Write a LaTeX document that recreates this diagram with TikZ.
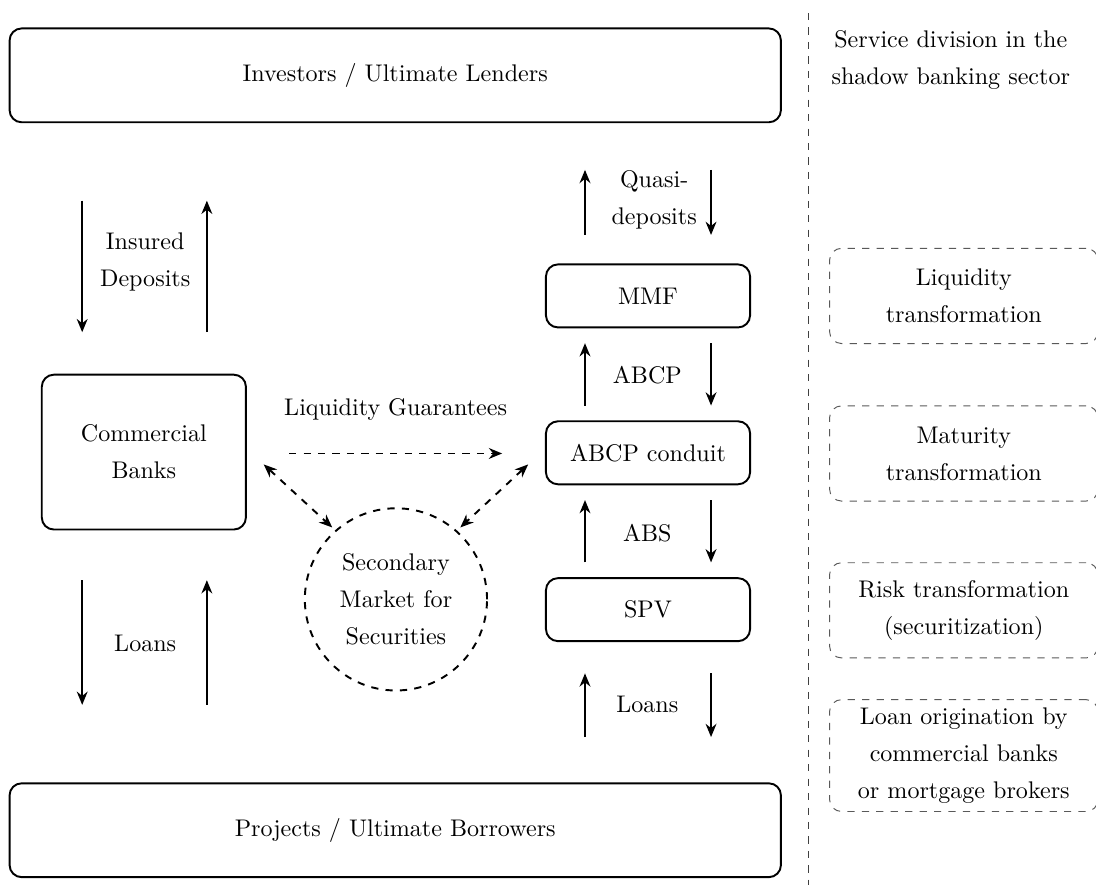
\documentclass[tikz,border=0pt]{standalone}
\usepackage{tikz}
\usetikzlibrary{arrows.meta,positioning}

\begin{document}
\begin{tikzpicture}[
	every node/.style={align=center,font=\fontsize{10}{15.4}\selectfont},
	agent/.style={draw,thick,rounded corners=5pt,minimum width=11.26cm,minimum height=1.37cm},
	inst/.style={draw,thick,rounded corners=5pt,minimum width=2.98cm,minimum height=0.92cm},
	service/.style={draw,dashed,gray!70!black,text=black,rounded corners=5pt,minimum width=3.92cm,minimum height=1.39cm},
	flow/.style={thick,-{Stealth[length=5.5pt,width=4.5pt]}},
	guar/.style={thick,dashed,-{Stealth[length=5.5pt,width=4.5pt]}}]
		\useasboundingbox (0,0) rectangle (16,13.01);
		\node[agent] (lenders) at (5.77,11.91) {Investors / Ultimate Lenders};
		\node[agent] (borrowers) at (5.77,0.89) {Projects / Ultimate Borrowers};
		\node[inst,minimum height=2.26cm] (banks) at (2.10,6.41) {Commercial\\Banks};
		\node[inst] (mmf) at (9.46,8.69) {MMF};
		\node[inst] (conduit) at (9.46,6.40) {ABCP conduit};
		\node[inst] (spv) at (9.46,4.11) {SPV};
		\node[draw,thick,dashed,circle,minimum size=2.66cm] (market) at (5.78,4.26) {Secondary\\Market for\\Securities};
		\foreach \n/\ya/\yb in {dep/10.08/8.16,bank/4.54/2.72}{
			\coordinate (\n La) at (1.20,\ya); \coordinate (\n Lb) at (1.20,\yb);
			\coordinate (\n Ra) at (3.02,\ya); \coordinate (\n Rb) at (3.02,\yb);
			\draw[flow] (\n La)--(\n Lb);
			\draw[flow] (\n Rb)--(\n Ra);
		}
		\foreach \n/\ya/\yb in {quasi/10.53/9.58,abcp/8.00/7.09,abs/5.71/4.80,spvl/3.18/2.25}{
			\coordinate (\n La) at (8.54,\ya); \coordinate (\n Lb) at (8.54,\yb);
			\coordinate (\n Ra) at (10.38,\ya); \coordinate (\n Rb) at (10.38,\yb);
			\draw[flow] (\n Lb)--(\n La);
			\draw[flow] (\n Ra)--(\n Rb);
		}
		\node (deptext) at (2.12,9.18) {Insured\\Deposits};
		\node (loantext) at (2.12,3.62) {Loans};
		\node (quasitext) at (9.55,10.09) {Quasi-\\deposits};
		\node (abcptext) at (9.45,7.53) {ABCP};
		\node (abstext) at (9.45,5.23) {ABS};
		\node (spvtext) at (9.45,2.72) {Loans};
		\coordinate (gA) at (4.22,6.39); \coordinate (gB) at (7.33,6.39);
		\draw[guar] (gA)--(gB) node[midway,above=0.35cm] (guartext) {Liquidity Guarantees};
		\coordinate (bA) at (3.85,6.23); \coordinate (bB) at (4.85,5.31);
		\coordinate (cA) at (7.71,6.23); \coordinate (cB) at (6.72,5.31);
		\draw[guar,{Stealth[length=5.5pt,width=4.5pt]}-{Stealth[length=5.5pt,width=4.5pt]}] (bA)--(bB);
		\draw[guar,{Stealth[length=5.5pt,width=4.5pt]}-{Stealth[length=5.5pt,width=4.5pt]}] (cA)--(cB);
		\coordinate (divtop) at (11.80,12.82); \coordinate (divbot) at (11.80,0.09);
		\draw[dashed,gray!50!black] (divtop)--(divbot);
		\node (divtext) at (13.88,12.13) {Service division in the\\shadow banking sector};
		\node[service] (liq) at (14.07,8.69) {Liquidity\\transformation};
		\node[service] (mat) at (14.07,6.39) {Maturity\\transformation};
		\node[service] (risk) at (14.07,4.10) {Risk transformation\\(securitization)};
		\node[service,minimum height=1.62cm] (orig) at (14.07,1.98) {Loan origination by\\commercial banks\\or mortgage brokers};
\end{tikzpicture}
\end{document}
